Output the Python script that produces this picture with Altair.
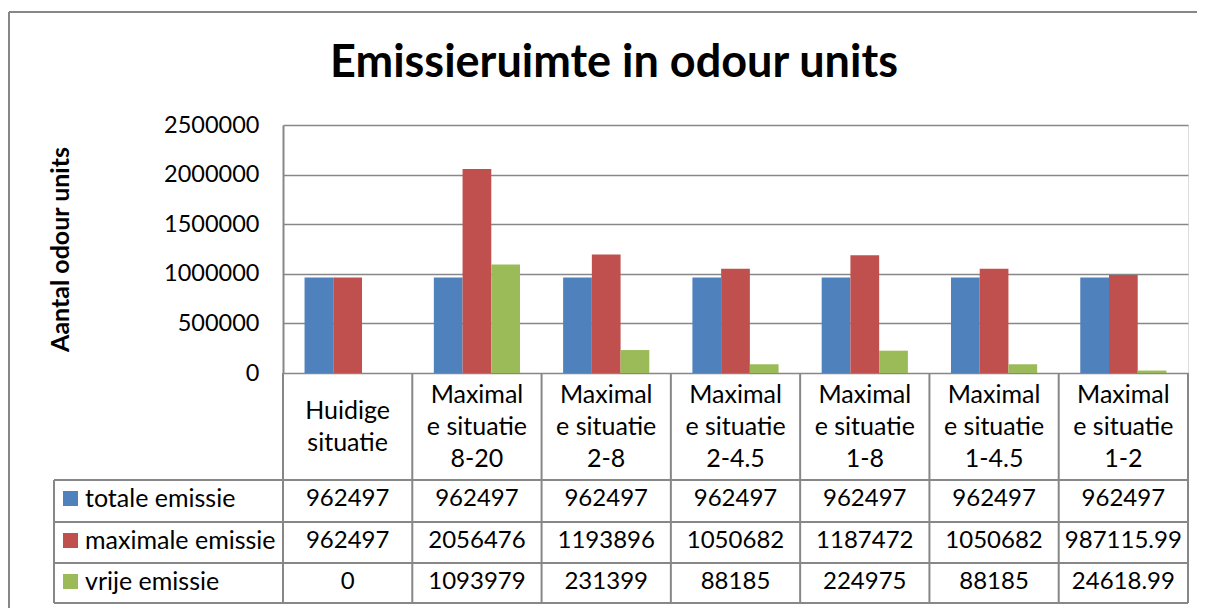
import altair as alt
import pandas as pd

categories = ["Huidige situatie", "Maximale situatie 8-20", "Maximale situatie 2-8",
              "Maximale situatie 2-4.5", "Maximale situatie 1-8", "Maximale situatie 1-4.5",
              "Maximale situatie 1-2"]
category_labels = ["Huidige\nsituatie", "Maximal\ne situatie\n8-20", "Maximal\ne situatie\n2-8",
                   "Maximal\ne situatie\n2-4.5", "Maximal\ne situatie\n1-8", "Maximal\ne situatie\n1-4.5",
                   "Maximal\ne situatie\n1-2"]
series = ["totale emissie", "maximale emissie", "vrije emissie"]
totale = [962497, 962497, 962497, 962497, 962497, 962497, 962497]
maximale = [962497, 2056476, 1193896, 1050682, 1187472, 1050682, 987115.99]
vrije = [0, 1093979, 231399, 88185, 224975, 88185, 24618.99]
colors = ["#4F81BD", "#C0504D", "#9BBB59"]
y_ticks = [0, 500000, 1000000, 1500000, 2000000, 2500000]
title_text = "Emissieruimte in odour units"
y_title = "Aantal odour units"


def fmt(v):
    return str(int(v)) if float(v).is_integer() else f"{v:.2f}"


rows = []
for s, vals in zip(series, [totale, maximale, vrije]):
    for c, v in zip(categories, vals):
        rows.append({"cat": c, "series": s, "value": v, "label": fmt(v)})
df = pd.DataFrame(rows)
cat_df = pd.DataFrame({"cat": categories, "label": category_labels})
cat_df["nlines"] = cat_df["label"].str.count("\n") + 1

FONT = "Lato"
GRID = "#878787"
W, H = 905, 248
LH = 32

x_enc = alt.X("cat:N", sort=categories, scale=alt.Scale(paddingInner=0, paddingOuter=0), axis=None)
color_enc = alt.Color("series:N", scale=alt.Scale(domain=series, range=colors), legend=None)

bars = alt.Chart(df).mark_bar().encode(
    x=x_enc,
    xOffset=alt.XOffset("series:N", sort=series,
                        scale=alt.Scale(paddingInner=0, paddingOuter=0.75)),
    y=alt.Y("value:Q", scale=alt.Scale(domain=[0, 2500000]),
            axis=alt.Axis(values=y_ticks, format="d", labelFont=FONT, labelFontSize=23.5,
                          labelColor="black", labelPadding=24, ticks=False,
                          domainColor=GRID, domainWidth=2, gridColor=GRID, gridWidth=1.5,
                          title=y_title, titleFont=FONT, titleFontSize=25,
                          titleFontWeight="bold", titleColor="black",
                          titleX=-223, titleY=H / 2, titleAngle=270,
                          titleAlign="center", titleBaseline="middle")),
    color=color_enc,
)

layers = [bars]

# chart title
layers.append(alt.Chart(pd.DataFrame({"t": [title_text]})).mark_text(
    font=FONT, fontSize=45, fontWeight="bold", align="center", baseline="alphabetic",
    color="black").encode(x=alt.value(331), y=alt.value(-48), text="t:N"))

# outer frame
layers.append(alt.Chart(pd.DataFrame({"a": [0]})).mark_rule(color=GRID, strokeWidth=2).encode(
    x=alt.value(-274), x2=alt.value(930), y=alt.value(-113)))
layers.append(alt.Chart(pd.DataFrame({"a": [0]})).mark_rule(color=GRID, strokeWidth=2).encode(
    x=alt.value(-274), y=alt.value(-113), y2=alt.value(600)))

# table grid
row_lines = [H + 107, H + 149, H + 190, H + 230]
for yy in row_lines:
    layers.append(alt.Chart(pd.DataFrame({"a": [0]})).mark_rule(color=GRID, strokeWidth=2).encode(
        x=alt.value(-229), x2=alt.value(W), y=alt.value(yy)))
layers.append(alt.Chart(pd.DataFrame({"a": [0]})).mark_rule(color=GRID, strokeWidth=2).encode(
    x=alt.value(-229), y=alt.value(row_lines[0]), y2=alt.value(row_lines[-1])))
layers.append(alt.Chart(cat_df).mark_rule(color=GRID, strokeWidth=2).encode(
    x=alt.X("cat:N", sort=categories, bandPosition=0), y=alt.value(H), y2=alt.value(row_lines[-1])))
layers.append(alt.Chart(pd.DataFrame({"a": [0]})).mark_rule(color=GRID, strokeWidth=2).encode(
    x=alt.value(W), y=alt.value(H), y2=alt.value(row_lines[-1])))

# header text (multi-line, block vertically centred in header row)
for n in sorted(cat_df["nlines"].unique()):
    sub = cat_df[cat_df["nlines"] == n]
    layers.append(alt.Chart(sub).mark_text(
        font=FONT, fontSize=25, lineBreak="\n", lineHeight=LH, baseline="middle",
        align="center", color="black").encode(
        x=alt.X("cat:N", sort=categories),
        y=alt.value(H + 54 - (int(n) - 1) * LH / 2), text="label:N"))

row_centers = [H + 126, H + 168, H + 209]
for s, yc in zip(series, row_centers):
    layers.append(alt.Chart(df[df.series == s]).mark_text(
        font=FONT, fontSize=24, baseline="middle", align="center", color="black").encode(
        x=alt.X("cat:N", sort=categories), y=alt.value(yc), text="label:N"))
    sdf = pd.DataFrame({"series": [s]})
    layers.append(alt.Chart(sdf).mark_rect().encode(
        x=alt.value(-220), x2=alt.value(-205), y=alt.value(yc - 8), y2=alt.value(yc + 7),
        color=color_enc))
    layers.append(alt.Chart(sdf).mark_text(
        font=FONT, fontSize=25, baseline="middle", align="left", color="black").encode(
        x=alt.value(-198), y=alt.value(yc), text="series:N"))

chart = alt.layer(*layers).properties(
    width=W, height=H,
    autosize=alt.AutoSizeParams(type="none"),
    padding={"left": 275, "top": 117, "right": 9, "bottom": 235},
).configure_view(stroke=None).configure(background="white")

chart.save("out.html", embed_options={"renderer": "svg", "actions": False})
